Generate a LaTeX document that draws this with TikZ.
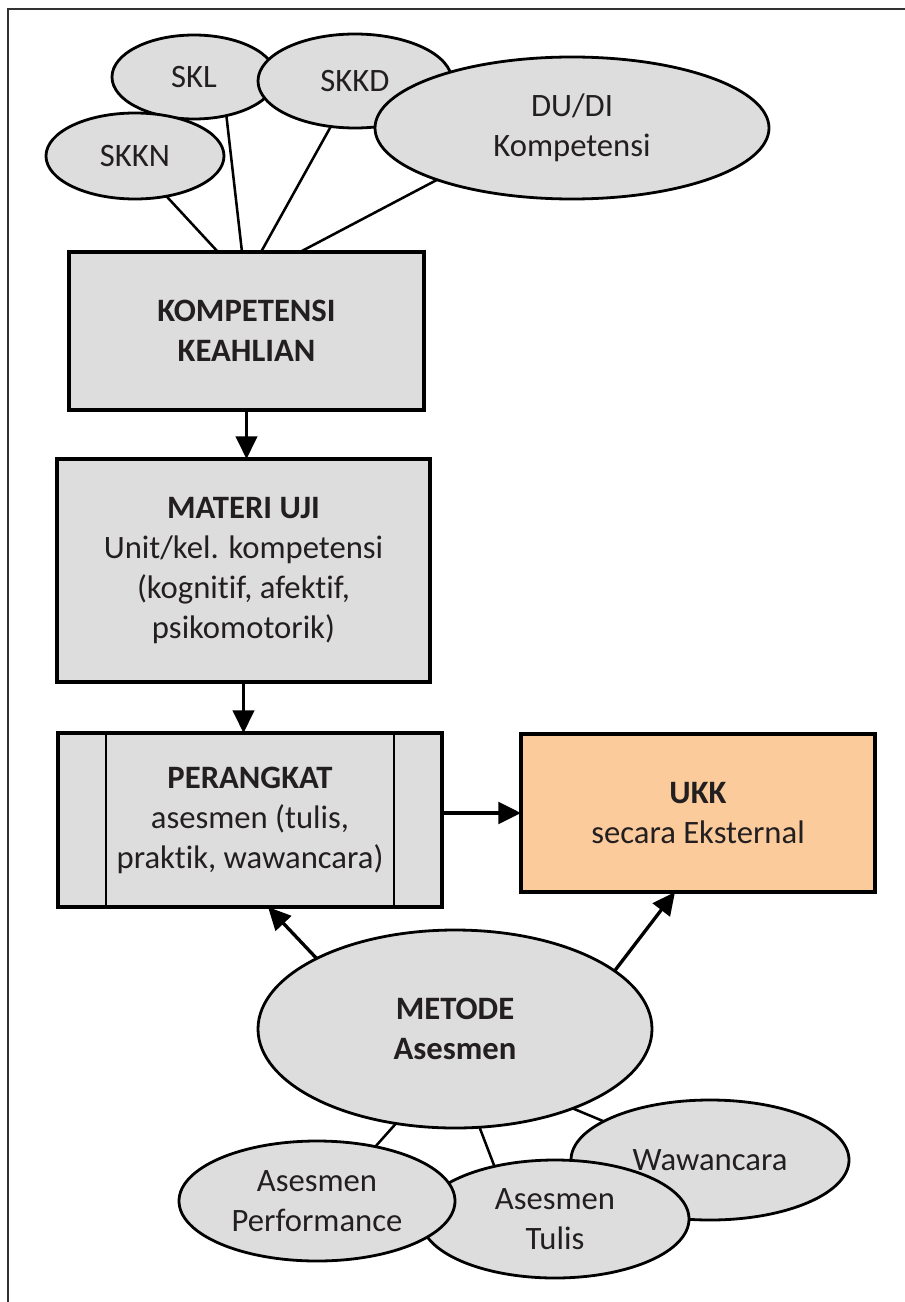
\documentclass[tikz,border=0pt]{standalone}
\usepackage{fontspec}
\setmainfont{Carlito}[Ligatures=NoCommon]
\usetikzlibrary{shapes.geometric,arrows.meta,calc}
\definecolor{boxgray}{RGB}{221,221,221}
\definecolor{peach}{RGB}{251,203,155}
\definecolor{ink}{RGB}{35,31,32}
\definecolor{framegray}{RGB}{50,50,50}
\begin{document}
\begin{tikzpicture}[x=0.75pt,y=-0.75pt,
  box/.style={rectangle,draw=black,line width=2.3pt,fill=boxgray,inner sep=0pt,outer sep=0pt,
    align=center,text=ink,font=\fontsize{24.5}{30}\selectfont},
  oval/.style={ellipse,draw=black,line width=2.1pt,fill=boxgray,inner sep=0pt,outer sep=0pt,
    align=center,text=ink,font=\fontsize{24.5}{30}\selectfont},
  link/.style={line width=1.9pt,draw=black},
  arr/.style={line width=2.5pt,draw=black,-{Triangle[length=17pt,width=16pt]}},
  bigarr/.style={line width=3.2pt,draw=black,-{Triangle[length=17pt,width=16pt]}}
]
\useasboundingbox (0,0) rectangle (904,1302);
\fill[white] (0,0) rectangle (904,1302);
\draw[framegray,line width=1.8pt] (8,1310) -- (8,9) -- (910,9);

% top ellipses
\node[oval,minimum width=164*0.75pt,minimum height=84*0.75pt] (skl) at (194,77) {SKL};
\node[oval,minimum width=178*0.75pt,minimum height=86*0.75pt] (skkn) at (135,156) {SKKN};
\node[oval,minimum width=194*0.75pt,minimum height=94*0.75pt] (skkd) at (355,81) {SKKD};
\node[oval,minimum width=394*0.75pt,minimum height=142*0.75pt] (dudi) at (572,128) {DU/DI\\Kompetensi};

% boxes
\node[box,minimum width=355*0.75pt,minimum height=158*0.75pt] (kk) at (246.5,331)
  {\textbf{KOMPETENSI}\\\textbf{KEAHLIAN}};
\node[box,minimum width=373*0.75pt,minimum height=223*0.75pt] (mu) at (243.5,570.5)
  {\textbf{MATERI UJI}\\Unit/kel. kompetensi\\(kognitif, afektif,\\psikomotorik)};
\node[box,minimum width=384*0.75pt,minimum height=174*0.75pt] (per) at (250,820)
  {\textbf{PERANGKAT}\\asesmen (tulis,\\praktik, wawancara)};
\draw[line width=2pt] ($(per.north west)+(48,0)$) -- ($(per.south west)+(48,0)$);
\draw[line width=2pt] ($(per.north east)+(-48,0)$) -- ($(per.south east)+(-48,0)$);
\node[box,fill=peach,minimum width=354*0.75pt,minimum height=158*0.75pt] (ukk) at (698,813)
  {\textbf{UKK}\\secara Eksternal};

% bottom ellipses
\node[oval,minimum width=394*0.75pt,minimum height=198*0.75pt] (metode) at (455,1029)
  {\textbf{METODE}\\\textbf{Asesmen}};
\node[oval,minimum width=278*0.75pt,minimum height=120*0.75pt] (waw) at (710,1160) {Wawancara};
\node[oval,minimum width=268*0.75pt,minimum height=118*0.75pt] (tulis) at (555,1219) {Asesmen\\Tulis};
\node[oval,minimum width=276*0.75pt,minimum height=120*0.75pt] (perf) at (317,1201) {Asesmen\\Performance};

% top connectors
\coordinate (k1) at (218,252);
\coordinate (k2) at (242,252);
\coordinate (k3) at (261,252);
\coordinate (k4) at (300,252);
\draw[link] (skkn.-52) -- (k1);
\draw[link] (skl.-50) -- (k2);
\draw[link] (skkd.242) -- (k3);
\draw[link] (dudi.201) -- (k4);

% bottom connectors
\draw[link] (metode.238.7) -- (perf.43);
\draw[link] (metode.-76.9) -- (tulis.139.4);
\draw[link] (metode.-34.4) -- (waw.160.1);

% arrows
\draw[arr] (kk.south) -- (kk.south |- mu.north);
\draw[arr] (mu.south) -- (mu.south |- per.north);
\draw[bigarr] (ukk.west -| per.east) -- (ukk.west);
\coordinate (p1) at (268,907);
\coordinate (u1) at (675,892);
\draw[arr] (metode.153.3) -- (p1);
\draw[arr] (metode.20.8) -- (u1);
\end{tikzpicture}
\end{document}
